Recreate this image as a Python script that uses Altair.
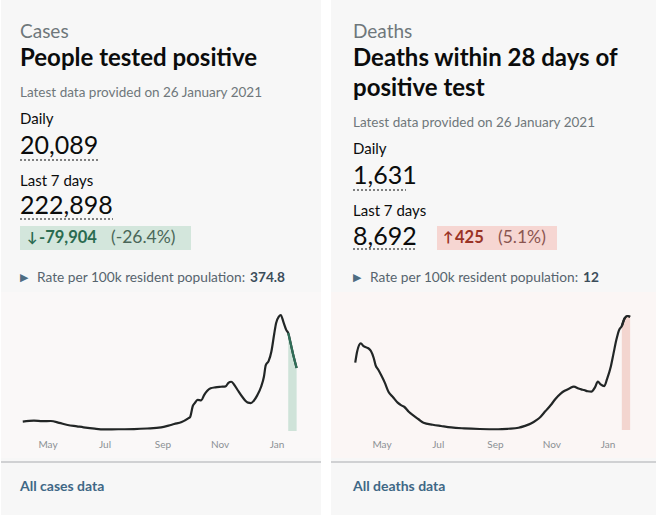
import altair as alt
import pandas as pd

FONT = "Lato, DejaVu Sans, sans-serif"

# ---- cases: 7-day average of people tested positive (by specimen date) ----
case_dates = [
    "2020-04-04", "2020-04-16", "2020-04-25", "2020-05-04", "2020-05-13", "2020-05-22",
    "2020-06-01", "2020-06-08", "2020-06-20", "2020-06-30", "2020-07-15", "2020-08-01",
    "2020-08-15", "2020-08-30", "2020-09-07", "2020-09-13", "2020-09-21", "2020-09-28",
    "2020-09-30", "2020-10-03", "2020-10-05", "2020-10-08", "2020-10-12", "2020-10-15",
    "2020-10-22", "2020-10-27", "2020-11-02", "2020-11-07", "2020-11-10", "2020-11-13",
    "2020-11-16", "2020-11-20", "2020-11-25", "2020-12-01", "2020-12-04", "2020-12-07",
    "2020-12-11", "2020-12-15", "2020-12-18", "2020-12-20", "2020-12-23", "2020-12-26",
    "2020-12-29", "2020-12-31", "2021-01-03", "2021-01-05", "2021-01-08", "2021-01-11",
    "2021-01-13", "2021-01-16", "2021-01-19", "2021-01-22",
]
case_values = [
    4800, 5300, 5100, 5150, 4200, 3100,
    2400, 1900, 1200, 870, 900, 1000,
    1300, 1900, 2800, 3600, 4600, 6500,
    7200, 13000, 14400, 16000, 15800, 18500,
    22000, 22500, 22800, 23000, 24800, 25400,
    24000, 21000, 17500, 14600, 14400, 15500,
    18500, 22800, 28000, 34000, 36000, 41000,
    50000, 55600, 59000, 59800, 56000, 52000,
    50500, 44300, 38000, 32500,
]
case_incomplete_from = "2021-01-13"

# ---- deaths within 28 days of a positive test (by date of death) ----
death_dates = [
    "2020-04-02", "2020-04-04", "2020-04-08", "2020-04-11", "2020-04-14", "2020-04-17",
    "2020-04-19", "2020-04-22", "2020-04-24", "2020-04-27", "2020-04-30", "2020-05-04",
    "2020-05-08", "2020-05-13", "2020-05-18", "2020-05-22", "2020-05-25", "2020-05-30",
    "2020-06-05", "2020-06-10", "2020-06-15", "2020-06-25", "2020-07-04", "2020-07-15",
    "2020-07-29", "2020-08-15", "2020-09-04", "2020-09-15", "2020-09-26", "2020-10-03",
    "2020-10-10", "2020-10-15", "2020-10-20", "2020-10-25", "2020-10-31", "2020-11-05",
    "2020-11-11", "2020-11-15", "2020-11-20", "2020-11-25", "2020-11-30", "2020-12-03",
    "2020-12-06", "2020-12-10", "2020-12-14", "2020-12-18", "2020-12-21", "2020-12-24",
    "2020-12-28", "2020-12-31", "2021-01-04", "2021-01-07", "2021-01-10", "2021-01-13",
    "2021-01-16", "2021-01-19", "2021-01-22", "2021-01-25",
]
death_values = [
    738, 858, 950, 920, 906, 890,
    866, 790, 712, 660, 603, 520,
    420, 360, 300, 270, 255, 200,
    153, 115, 80, 58, 44, 28,
    18, 11, 8, 14, 25, 45,
    73, 105, 146, 205, 274, 340,
    402, 430, 455, 475, 455, 445,
    438, 425, 420, 470, 530, 500,
    482, 560, 694, 840, 986, 1096,
    1140, 1224, 1250, 1242,
]
death_incomplete_from = "2021-01-16"

month_ticks = ["2020-05-01", "2020-07-01", "2020-09-01", "2020-11-01", "2021-01-01"]
month_labels = ["May", "Jul", "Sep", "Nov", "Jan"]

INK = "#0b0c0c"
GREY = "#6f777b"
CARD_H = 515


def text(s, x, y, size, weight="normal", color=INK):
    return alt.Chart(pd.DataFrame({"s": [s]})).mark_text(
        align="left", baseline="middle", font=FONT, fontSize=size,
        fontWeight=weight, color=color,
    ).encode(x=alt.value(x), y=alt.value(y), text="s:N")


def box(x, x2, y, y2, color):
    return alt.Chart(pd.DataFrame({"k": [0]})).mark_rect(color=color).encode(
        x=alt.value(x), x2=alt.value(x2), y=alt.value(y), y2=alt.value(y2)
    )


def underline(x, x2, y):
    return alt.Chart(pd.DataFrame({"k": [0]})).mark_rule(
        color=INK, strokeDash=[2, 2], strokeWidth=1
    ).encode(x=alt.value(x), x2=alt.value(x2), y=alt.value(y))


def card(width, x0, kicker, title_lines, daily, daily_w, week, week_w,
         badge, rate, dates, values, cutoff, y_max, x_range, y_range,
         tint, tail_fill, tail_line, link):
    df = pd.DataFrame({"date": pd.to_datetime(dates), "value": values})
    tail = df[df["date"] >= pd.Timestamp(cutoff)]
    ticks = pd.DataFrame({"date": pd.to_datetime(month_ticks), "label": month_labels})

    xs = alt.Scale(domain=[alt.DateTime(year=2020, month=5, date=1),
                           alt.DateTime(year=2021, month=1, date=1)],
                   range=x_range, nice=False)
    ys = alt.Scale(domain=[0, y_max], range=y_range, nice=False, zero=True)
    xe = alt.X("date:T", scale=xs, axis=None)
    ye = alt.Y("value:Q", scale=ys, axis=None)

    layers = [box(0, width, 0, CARD_H, "#f7f7f7"), box(0, width, 292, 458, tint)]
    layers.append(text(kicker, x0, 32, 19, color=GREY))
    ty = 59
    for line in title_lines:
        layers.append(text(line, x0, ty, 24, "bold"))
        ty += 30
    base = ty - 30
    layers.append(text("Latest data provided on 26 January 2021", x0, base + 34, 13.5, color=GREY))
    layers.append(text("Daily", x0, base + 60, 15))
    layers.append(text(daily, x0, base + 87, 25))
    layers.append(underline(x0, x0 + daily_w, base + 101))
    layers.append(text("Last 7 days", x0, base + 122, 15))
    layers.append(text(week, x0, 206 if len(title_lines) == 1 else 237, 25))
    layers.append(underline(x0, x0 + week_w, 219 if len(title_lines) == 1 else 249))

    bx, bx2, arrow, num, pct, bfill, bcol, pcol, num_x, pct_x = badge
    layers.append(box(bx, bx2, 226, 250, bfill))
    layers.append(text(arrow, num_x - 12, 238, 14, "bold", bcol))
    layers.append(text(num, num_x, 238, 16.5, "bold", bcol))
    layers.append(text(pct, pct_x, 238, 17.5, "normal", pcol))

    layers.append(text("\u25B6", x0, 278, 11, color="#4d6c82"))
    layers.append(text("Rate per 100k resident population:", x0 + 17, 278, 13.7, color="#56646e"))
    layers.append(text(rate, x0 + 230, 278, 13.7, "bold", "#3b4d5a"))

    layers.append(
        alt.Chart(tail).mark_area(color=tail_fill, opacity=1).encode(x=xe, y=ye)
    )
    layers.append(
        alt.Chart(df).mark_line(color="#222626", strokeWidth=2.2,
                                interpolate="monotone").encode(x=xe, y=ye)
    )
    layers.append(
        alt.Chart(tail).mark_line(color=tail_line, strokeWidth=2.2,
                                  interpolate="monotone").encode(x=xe, y=ye)
    )
    layers.append(
        alt.Chart(ticks).mark_text(font=FONT, fontSize=10, color="#8b9094",
                                   baseline="middle").encode(
            x=alt.X("date:T", scale=xs, axis=None), y=alt.value(445), text="label:N")
    )

    layers.append(
        alt.Chart(pd.DataFrame({"k": [0]})).mark_rule(color="#c3c5c7", strokeWidth=1.5).encode(
            x=alt.value(0), x2=alt.value(width), y=alt.value(462))
    )
    layers.append(text(link, x0, 487, 14, "bold", "#3f6886"))

    return alt.layer(*layers).properties(width=width, height=CARD_H)


cases_card = card(
    320, 19, "Cases", ["People tested positive"],
    "20,089", 80, "222,898", 93,
    (19, 190, "\u2193", "-79,904", "(-26.4%)", "#d3e6dc", "#2a6b50", "#4a6658", 38, 110),
    "374.8", case_dates, case_values, case_incomplete_from, 59800,
    [47, 276], [431, 315], "#faf8f8", "#cfe3d9", "#2f6e58", "All cases data",
)

deaths_card = card(
    325, 22, "Deaths", ["Deaths within 28 days of", "positive test"],
    "1,631", 53, "8,692", 64,
    (106, 226, "\u2191", "425", "(5.1%)", "#f6d6d2", "#9a3324", "#8a5550", 124, 167),
    "12", death_dates, death_values, death_incomplete_from, 1250,
    [51, 277], [430, 316], "#fbf6f5", "#f3d5cf", "#222626", "All deaths data",
)

chart = (
    alt.hconcat(cases_card, deaths_card, spacing=10, bounds="flush")
    .properties(padding=0, background="white")
    .configure_view(strokeWidth=0)
)

chart.save("out.html", embed_options={"renderer": "svg", "actions": False})
